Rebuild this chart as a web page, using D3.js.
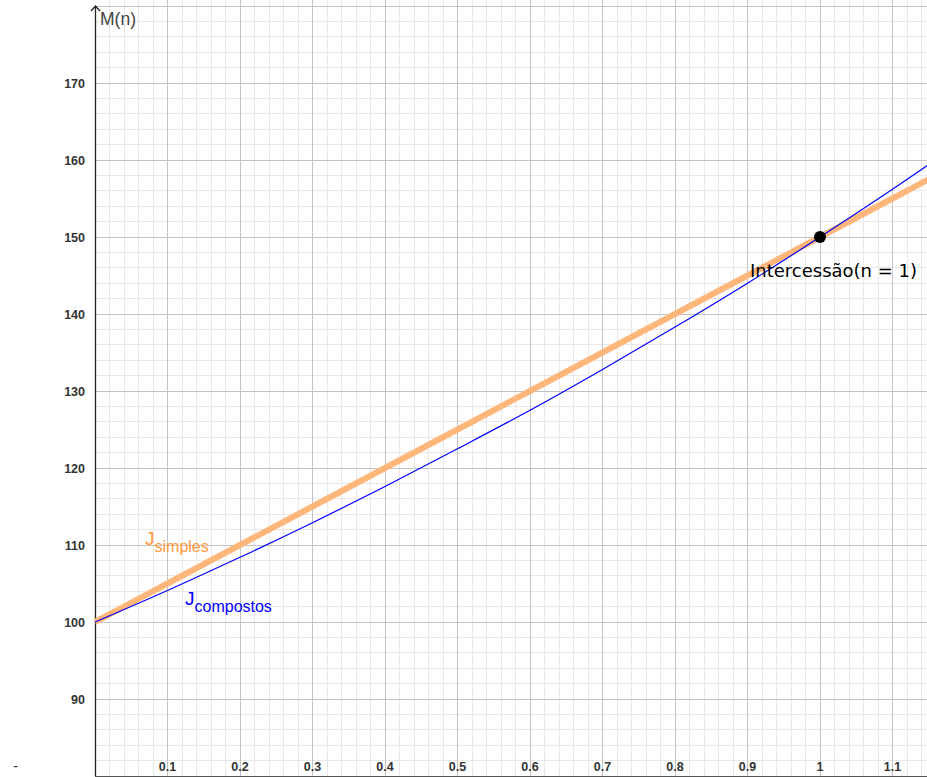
<!DOCTYPE html>
<html><head><meta charset="utf-8">
<script src="https://cdn.jsdelivr.net/npm/d3@7"></script>
<style>body{margin:0;background:#fff}svg{display:block}</style>
</head><body>
<script>
// Data
const nValues = [0, 0.1, 0.2, 0.3, 0.4, 0.5, 0.6, 0.7, 0.8, 0.9, 1.0, 1.1, 1.15];
const simplesValues = [100, 105, 110, 115, 120, 125, 130, 135, 140, 145, 150, 155, 157.5];
const compostosValues = [100, 104.1, 108.4, 112.9, 117.6, 122.5, 127.5, 132.8, 138.3, 144.0, 150, 156.2, 159.4];
const xTickLabels = ["0.1","0.2","0.3","0.4","0.5","0.6","0.7","0.8","0.9","1","1.1"];
const yTickLabels = ["90","100","110","120","130","140","150","160","170"];
const intersection = {n: 1, m: 150, label: "Intercessão(n = 1)"};

const W = 927, H = 777;
const svg = d3.select("body").append("svg").attr("width", W).attr("height", H);

const x = d3.scaleLinear().domain([0, 1]).range([95, 820]);
const y = d3.scaleLinear().domain([100, 150]).range([622, 237]);
const xMax = x.invert(W), yMax = y.invert(0);

const g = svg.append("g");
// minor grid
const minorX = d3.range(0.02, xMax, 0.02).filter(v => Math.abs(v*10 - Math.round(v*10)) > 1e-6);
const minorY = d3.range(82, yMax, 2).filter(v => v % 10 !== 0);
g.selectAll(".mx").data(minorX).join("line")
  .attr("x1", d => x(d)).attr("x2", d => x(d)).attr("y1", 0).attr("y2", 776)
  .attr("stroke", "#e8e8e8").attr("stroke-width", 1).attr("shape-rendering", "crispEdges");
g.selectAll(".my").data(minorY).join("line")
  .attr("x1", 95).attr("x2", W).attr("y1", d => y(d)).attr("y2", d => y(d))
  .attr("stroke", "#e8e8e8").attr("stroke-width", 1).attr("shape-rendering", "crispEdges");
// major grid
const majorX = xTickLabels.map(Number);
const majorY = [80].concat(yTickLabels.map(Number), [180]);
g.selectAll(".Mx").data(majorX).join("line")
  .attr("x1", d => x(d)).attr("x2", d => x(d)).attr("y1", 0).attr("y2", 776)
  .attr("stroke", "#c4c4c4").attr("stroke-width", 1).attr("shape-rendering", "crispEdges");
g.selectAll(".My").data(majorY).join("line")
  .attr("x1", 95).attr("x2", W).attr("y1", d => y(d)).attr("y2", d => y(d))
  .attr("stroke", "#c4c4c4").attr("stroke-width", 1).attr("shape-rendering", "crispEdges");

// axes
svg.append("line").attr("x1", 95).attr("x2", W).attr("y1", 776).attr("y2", 776)
  .attr("stroke", "#555").attr("stroke-width", 1).attr("shape-rendering", "crispEdges");
svg.append("line").attr("x1", 95.5).attr("x2", 95.5).attr("y1", 776).attr("y2", 6)
  .attr("stroke", "#222").attr("stroke-width", 1.3);
svg.append("path").attr("d", "M91,11 L95.5,6 L100,11").attr("fill", "none")
  .attr("stroke", "#222").attr("stroke-width", 1.3);

// tick labels
svg.selectAll(".xt").data(xTickLabels).join("text")
  .attr("x", d => x(+d)).attr("y", 771).attr("text-anchor", "middle")
  .attr("font-family", "Liberation Sans, Arial, sans-serif").attr("font-size", 12.5)
  .attr("font-weight", "bold").attr("fill", "#333").text(d => d);
svg.selectAll(".yt").data(yTickLabels).join("text")
  .attr("x", 85).attr("y", d => y(+d) + 5).attr("text-anchor", "end")
  .attr("font-family", "Liberation Sans, Arial, sans-serif").attr("font-size", 12.5)
  .attr("font-weight", "bold").attr("fill", "#333").text(d => d);
svg.append("text").attr("x", 100).attr("y", 25)
  .attr("font-family", "Liberation Sans, Arial, sans-serif").attr("font-size", 17.5)
  .attr("fill", "#444").text("M(n)");
svg.append("text").attr("x", 13).attr("y", 771)
  .attr("font-family", "Liberation Sans, Arial, sans-serif").attr("font-size", 15)
  .attr("fill", "#333").text("-");

// series
const line = (vals) => d3.line().x((d, i) => x(nValues[i])).y(d => y(d)).curve(d3.curveMonotoneX)(vals);
svg.append("path").attr("d", line(simplesValues)).attr("fill", "none")
  .attr("stroke", "#ffb67a").attr("stroke-width", 6);
svg.append("path").attr("d", line(compostosValues)).attr("fill", "none")
  .attr("stroke", "#0000ff").attr("stroke-width", 1.2);

// intersection point
svg.append("circle").attr("cx", x(intersection.n)).attr("cy", y(intersection.m)).attr("r", 6)
  .attr("fill", "#000");
svg.append("text").attr("x", 750).attr("y", 277)
  .attr("font-family", "DejaVu Sans, Noto Sans, sans-serif").attr("font-size", 18)
  .attr("fill", "#000").attr("textLength", 167).attr("lengthAdjust", "spacingAndGlyphs")
  .text(intersection.label);

// labels
const lab1 = svg.append("text").attr("x", 145).attr("y", 545)
  .attr("font-family", "Liberation Sans, Arial, sans-serif").attr("fill", "#ff9a3c");
lab1.append("tspan").attr("font-size", 19).text("J");
lab1.append("tspan").attr("font-size", 16).attr("dy", 7).text("simples");
const lab2 = svg.append("text").attr("x", 185).attr("y", 605)
  .attr("font-family", "Liberation Sans, Arial, sans-serif").attr("fill", "#0000ff");
lab2.append("tspan").attr("font-size", 19).text("J");
lab2.append("tspan").attr("font-size", 16).attr("dy", 7).text("compostos");
</script>
</body></html>
